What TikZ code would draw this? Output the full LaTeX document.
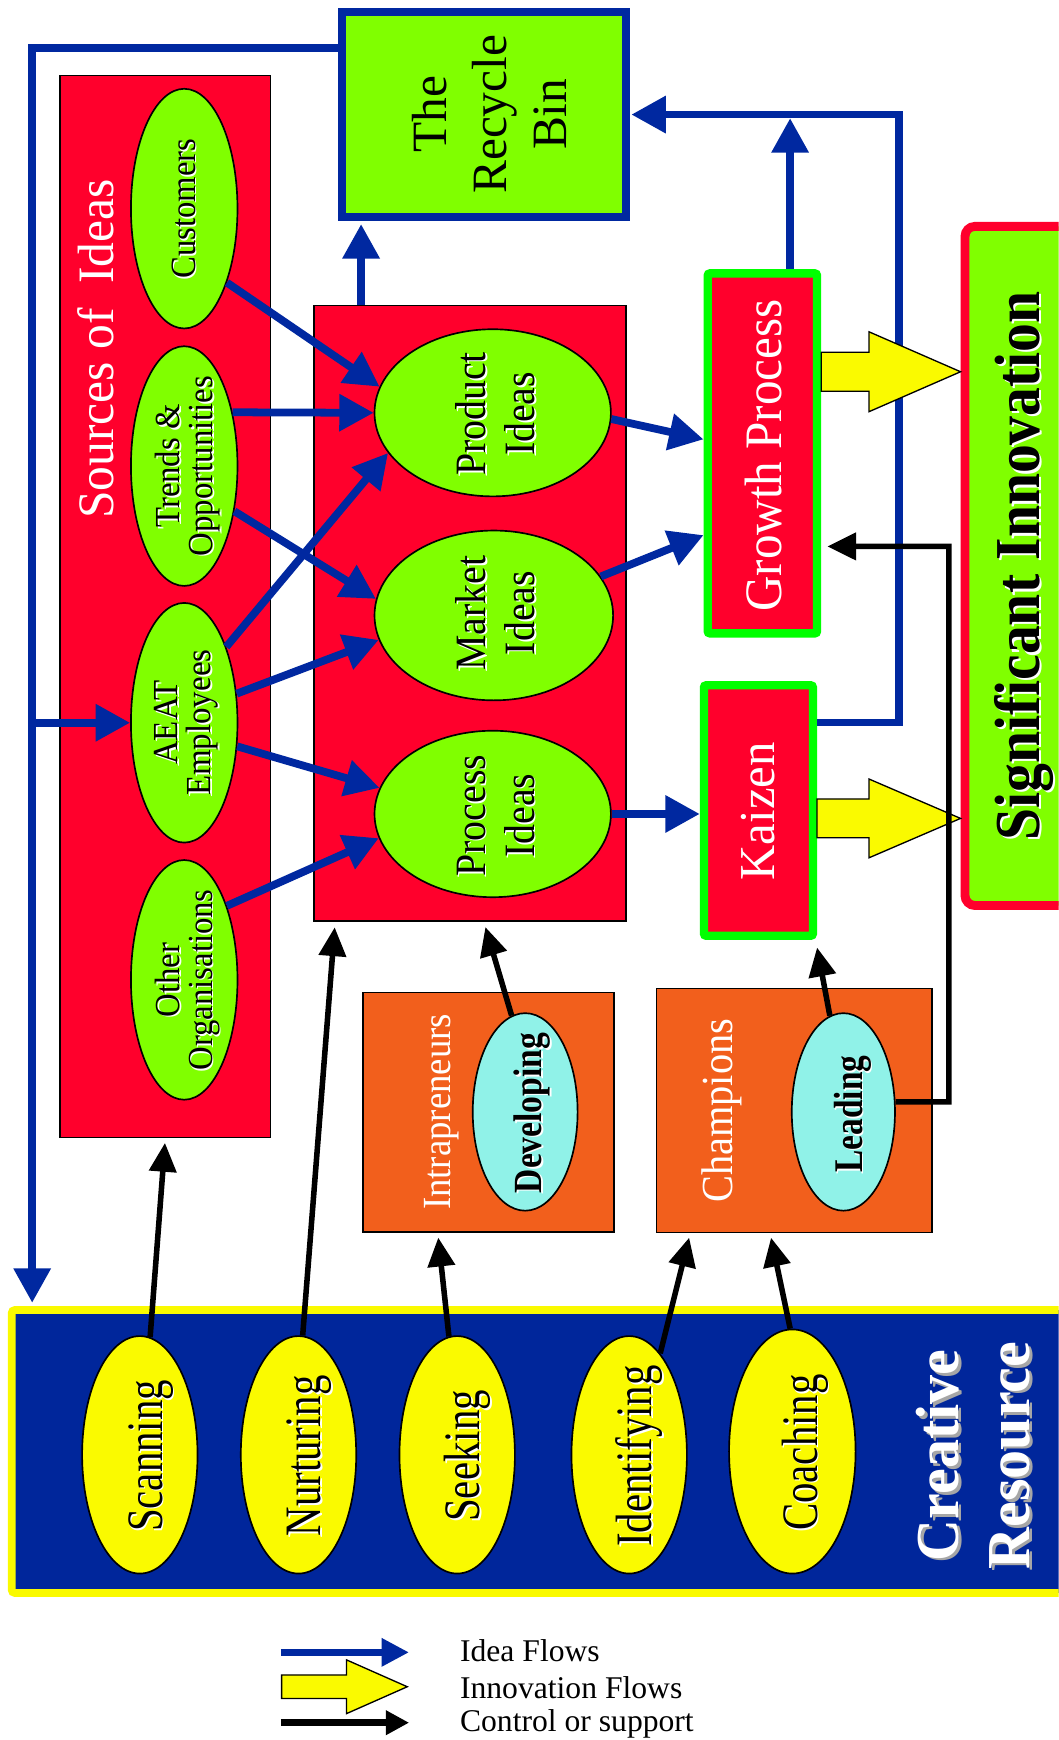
\documentclass[tikz,border=0pt]{standalone}
\usepackage{fontspec}
\setmainfont{Liberation Serif}
\usetikzlibrary{arrows.meta,shapes.geometric,calc}
\definecolor{idred}{RGB}{255,0,44}
\definecolor{idgreen}{RGB}{128,255,0}
\definecolor{idblue}{RGB}{0,40,160}
\definecolor{crblue}{RGB}{0,38,155}
\definecolor{inyellow}{RGB}{250,250,0}
\definecolor{orng}{RGB}{242,95,28}
\definecolor{cyanf}{RGB}{144,242,232}
\definecolor{cLime}{RGB}{0,255,0}
\newcommand\shtxt[6]{\node[#2,text=#4] (#1s) at ($#3+(#5,#5)$) {#6};\node[#2] (#1) at #3 {#6};}
\begin{document}
\begin{tikzpicture}[x=1pt,y=-1pt,
  every node/.style={inner sep=0pt},
  rbox/.style={draw=black,line width=1.2pt,fill=idred},
  gbox/.style={draw=cLime,line width=7.5pt,fill=idred,rounded corners=2pt},
  obox/.style={draw=black,line width=1.5pt,fill=orng},
  gell/.style={ellipse,draw=black,line width=1.5pt,fill=idgreen},
  yell/.style={ellipse,draw=black,line width=1.5pt,fill=inyellow},
  cell/.style={ellipse,draw=black,line width=1.5pt,fill=cyanf},
  blueflow/.style={draw=idblue,line width=7pt,-{Triangle[length=31pt,width=32pt]}},
  ctrl/.style={draw=black,line width=5pt,-{Triangle[length=26pt,width=24pt]}},
  fat/.style={draw=black,line width=1.2pt,fill=inyellow},
  vt/.style={rotate=90,align=center},
]
\useasboundingbox (0,0) rectangle (954,1568);
\clip (0,0) rectangle (954,1568);
\fill[white] (0,0) rectangle (954,1568);

% ---------- boxes ----------
\node[draw=idblue,line width=7.4pt,fill=idgreen,minimum width=256pt,minimum height=185pt] (recycle) at (436.25,103.25) {};
\node[rbox,minimum width=190pt,minimum height=957pt] (sources) at (149,546.3) {};
\node[rbox,minimum width=281pt,minimum height=555pt] (ideas) at (423.5,552.5) {};
\node[gbox,minimum width=98.5pt,minimum height=324.4pt] (growth) at (687,408.55) {};
\node[gbox,minimum width=98.2pt,minimum height=225.7pt] (kaizen) at (683.45,730.4) {};
\node[draw=idred,line width=8pt,fill=idgreen,rounded corners=9pt,minimum width=120.4pt,minimum height=612pt] (sig) at (929.8,510) {};
\node[obox,minimum width=226pt,minimum height=216pt] (intr) at (440,1002.5) {};
\node[obox,minimum width=248.5pt,minimum height=220pt] (champ) at (715.75,1000.65) {};
\node[draw=inyellow,line width=7pt,fill=crblue,rounded corners=3pt,minimum width=989.5pt,minimum height=255pt] (creative) at (505.25,1308) {};

% ---------- ellipses ----------
\node[gell,minimum width=96pt,minimum height=216pt] (cust) at (166,188) {};
\node[gell,minimum width=96pt,minimum height=216pt] (trends) at (166,420) {};
\node[gell,minimum width=96pt,minimum height=216pt] (aeat) at (166,651.3) {};
\node[gell,minimum width=96pt,minimum height=216pt] (other) at (166,883) {};
\node[gell,minimum width=213pt,minimum height=150.6pt] (prod) at (444,372) {};
\node[gell,minimum width=215pt,minimum height=153pt] (market) at (445,554.6) {};
\node[gell,minimum width=213pt,minimum height=150pt] (proc) at (444,733.5) {};
\node[cell,minimum width=94.5pt,minimum height=178pt] (dev) at (473.25,1002) {};
\node[cell,minimum width=93pt,minimum height=178pt] (lead) at (760,1002) {};
\node[yell,minimum width=104pt,minimum height=214pt] (scan) at (126,1311) {};
\node[yell,minimum width=104pt,minimum height=214pt] (nurt) at (269,1311) {};
\node[yell,minimum width=104pt,minimum height=214pt] (seek) at (412,1311) {};
\node[yell,minimum width=104pt,minimum height=214pt] (ident) at (567,1311) {};
\node[yell,minimum width=114pt,minimum height=220pt] (coach) at (714,1308) {};

% ---------- coordinates ----------
\coordinate (lp) at (29,43);
\coordinate (ir) at (325.4,0);
\coordinate (gu) at (712,103);
\coordinate (kr) at (810,651);
\coordinate (lc) at (855,993);
\coordinate (lg) at (855,492.4);
\coordinate (nx) at (302,0);
\coordinate (sx) at (394.5,0);
\coordinate (idx) at (622,0);
\coordinate (cx) at (694,0);
\coordinate (dx) at (436,0);
\coordinate (kx) at (735,0);
\coordinate (gp1) at ($(growth.north west)!0.462!(growth.south west)$);
\coordinate (gp2) at ($(growth.north west)!0.722!(growth.south west)$);

% ---------- idea flows ----------
\draw[blueflow,shorten >=3pt] (recycle.west |- lp) -- (lp) -- (lp |- creative.north);
\draw[blueflow] (lp |- aeat.west) -- (aeat.west);
\draw[blueflow,shorten >=2.5pt] (ideas.north -| ir) -- (recycle.south -| ir);
\draw[blueflow] (cust.-60) -- (prod.167);
\draw[blueflow] (trends.48) -- (prod.west);
\draw[blueflow] (trends.-42) -- (market.172);
\draw[blueflow] (aeat.61) -- (prod.201);
\draw[blueflow] (aeat.29) -- (market.192);
\draw[blueflow] (aeat.-24) -- (proc.167);
\draw[blueflow] (other.60) -- (proc.192);
\draw[blueflow] (prod.-3) -- (gp1);
\draw[blueflow] (market.20) -- (gp2);
\draw[blueflow] (proc.east) -- (kaizen.west |- proc.east);
\draw[blueflow,shorten >=3.5pt] (growth.north -| gu) -- (gu);
\draw[blueflow,shorten >=1pt] (kaizen.east |- kr) -- (kr) |- (recycle.east);

% ---------- innovation flows ----------
\coordinate (ga) at (growth.east |- 0,335);
\coordinate (gt) at (sig.west |- 0,335);
\draw[fat] ($(ga)+(0,-17.5)$) -- ($(gt)+(-82.5,-17.5)$) -- ($(gt)+(-82.5,-36)$) -- (gt)
  -- ($(gt)+(-82.5,36)$) -- ($(gt)+(-82.5,17.5)$) -- ($(ga)+(0,17.5)$) -- cycle;
\coordinate (ka) at (kaizen.east |- 0,737.5);
\coordinate (kt) at (sig.west |- 0,737.5);
\draw[fat] ($(ka)+(0,-17.5)$) -- ($(kt)+(-82.5,-17.5)$) -- ($(kt)+(-82.5,-35.5)$) -- (kt)
  -- ($(kt)+(-82.5,35.5)$) -- ($(kt)+(-82.5,17.5)$) -- ($(ka)+(0,17.5)$) -- cycle;

% ---------- control / support ----------
\draw[ctrl,shorten >=4.5pt] (scan.85) -- (sources.south);
\draw[ctrl,shorten >=5pt] (nurt.88) -- (ideas.south -| nx);
\draw[ctrl,shorten >=4pt] (seek.94) -- (intr.south -| sx);
\draw[ctrl,shorten >=4pt] (ident.73) -- (champ.south -| idx);
\draw[ctrl,shorten >=4pt] (coach.91.5) -- (champ.south -| cx);
\draw[ctrl,shorten >=5pt] (dev.98) -- (ideas.south -| dx);
\draw[ctrl,shorten >=7pt] (lead.98) -- (kaizen.south -| kx);
\draw[ctrl,shorten >=5.5pt] (lead.11) -- (lc) -- (lg) -- (growth.east |- lg);

% ---------- texts ----------
\node[vt,anchor=center,font=\fontsize{44.5}{54}\selectfont] (recyclet) at (441,103) {The\\Recycle\\Bin};
\node[vt,anchor=base,text=white,font=\fontsize{46}{50}\selectfont,xscale=.97] (srct) at (102,314.5) {Sources of\ \ Ideas};
\shtxt{custt}{vt,anchor=base,font=\fontsize{32}{34}\selectfont,xscale=.92}{(176,188)}{white}{1.5}{Customers}
\shtxt{trendst}{vt,anchor=center,font=\fontsize{31.7}{29.5}\selectfont,xscale=.93}{(169,420)}{white}{1.5}{Trends \&\\Opportunities}
\shtxt{aeatt}{vt,anchor=center,font=\fontsize{31.7}{29.5}\selectfont,xscale=.937}{(168,651.3)}{white}{1.5}{AEAT\\Employees}
\shtxt{othert}{vt,anchor=center,font=\fontsize{31.7}{29.5}\selectfont,xscale=.93}{(169,883)}{white}{1.5}{Other\\Organisations}
\shtxt{prodt}{vt,anchor=center,font=\fontsize{39}{44}\selectfont,xscale=.92}{(446.4,373)}{white}{1.5}{Product\\Ideas}
\shtxt{markett}{vt,anchor=center,font=\fontsize{39}{44}\selectfont,xscale=.92}{(446.4,552.5)}{white}{1.5}{Market\\Ideas}
\shtxt{proct}{vt,anchor=center,font=\fontsize{39}{44}\selectfont,xscale=.92}{(446.7,735)}{white}{1.5}{Process\\Ideas}
\node[vt,anchor=base,text=white,font=\fontsize{47.4}{50}\selectfont,xscale=.934] (growtht) at (704,410.5) {Growth Process};
\node[vt,anchor=base,text=white,font=\fontsize{45.3}{50}\selectfont,xscale=.97] (kaizent) at (698,731) {Kaizen};
\shtxt{sigt}{vt,anchor=base,font=\bfseries\fontsize{57.7}{60}\selectfont,xscale=.9}{(936.8,510)}{white}{2}{Significant Innovation}
\node[vt,anchor=base,text=white,font=\fontsize{36}{40}\selectfont,xscale=.92] (intrt) at (406,1002) {Intrapreneurs};
\node[vt,anchor=base,text=white,font=\fontsize{40}{44}\selectfont,xscale=.91] (champt) at (660,1001) {Champions};
\shtxt{devt}{vt,anchor=base,font=\bfseries\fontsize{36}{40}\selectfont,xscale=.84}{(488,1003)}{white}{1.5}{Developing}
\shtxt{leadt}{vt,anchor=base,font=\bfseries\fontsize{36.7}{40}\selectfont,xscale=.82}{(777,1004)}{white}{1.5}{Leading}
\shtxt{scant}{vt,anchor=base,font=\fontsize{46}{50}\selectfont,xscale=.8}{(146,1312)}{white}{1.5}{Scanning}
\shtxt{nurtt}{vt,anchor=base,font=\fontsize{46}{50}\selectfont,xscale=.8}{(289,1312)}{white}{1.5}{Nurturing}
\shtxt{seekt}{vt,anchor=base,font=\fontsize{46}{50}\selectfont,xscale=.8}{(432,1312)}{white}{1.5}{Seeking}
\shtxt{identt}{vt,anchor=base,font=\fontsize{46}{50}\selectfont,xscale=.8}{(587,1312)}{white}{1.5}{Identifying}
\shtxt{coacht}{vt,anchor=base,font=\fontsize{46}{50}\selectfont,xscale=.8}{(736.5,1309)}{white}{1.5}{Coaching}
\shtxt{creatt}{vt,anchor=center,text=white,font=\bfseries\fontsize{55}{64}\selectfont,xscale=.95}{(877,1311.5)}{gray!70}{2.5}{Creative\\Resource}

% ---------- legend ----------
\coordinate (l1a) at (253,1489);
\coordinate (l1b) at (368.6,1489);
\coordinate (ly) at (253.8,1520);
\coordinate (lyt) at (367,1520);
\coordinate (l3a) at (253,1552.4);
\coordinate (l3b) at (368.7,1552.4);
\draw[draw=idblue,line width=6.6pt,-{Triangle[length=24.6pt,width=24pt]}] (l1a) -- (l1b);
\draw[fat] ($(ly)+(0,-10.6)$) -- ($(lyt)+(-54.7,-10.6)$) -- ($(lyt)+(-54.7,-24.2)$) -- (lyt)
  -- ($(lyt)+(-54.7,24.2)$) -- ($(lyt)+(-54.7,10.6)$) -- ($(ly)+(0,10.6)$) -- cycle;
\draw[draw=black,line width=6pt,-{Triangle[length=21pt,width=21pt]}] (l3a) -- (l3b);
\node[anchor=base west,font=\fontsize{28.5}{30}\selectfont] (leg1) at (414.4,1497.5) {Idea Flows};
\node[anchor=base west,font=\fontsize{28.5}{30}\selectfont] (leg2) at (414.4,1530.8) {Innovation Flows};
\node[anchor=base west,font=\fontsize{28.5}{30}\selectfont] (leg3) at (414.4,1560) {Control or support};
\end{tikzpicture}
\end{document}
